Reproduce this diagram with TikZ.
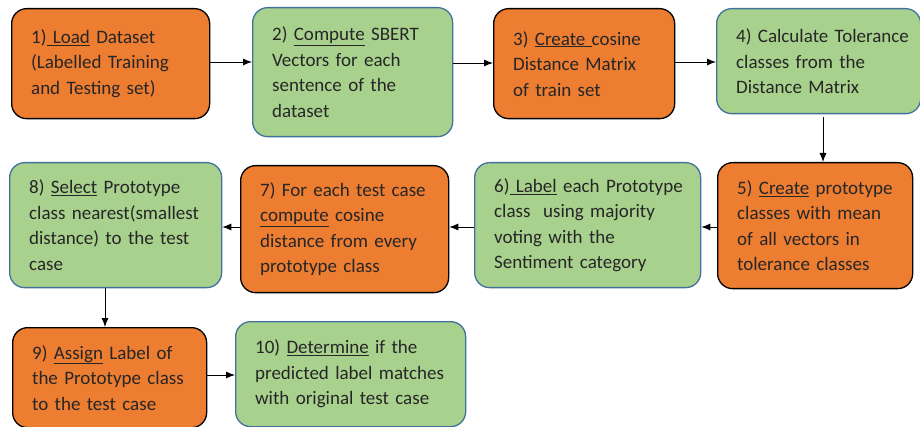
\documentclass[tikz,border=0pt]{standalone}
\usepackage{fontspec}
\setmainfont{Carlito}
\usetikzlibrary{arrows.meta,positioning}

\definecolor{stepor}{HTML}{ED7D31}
\definecolor{stepgr}{HTML}{A9D18E}
\definecolor{stepbl}{HTML}{41719C}
\definecolor{steptx}{HTML}{262626}

\newcommand\stepul[1]{\underline{#1}}

\begin{document}
\begin{tikzpicture}[>={Latex[length=9pt,width=7pt]}, x=1pt, y=-1pt]
      \tikzset{
	  box/.style={rectangle, rounded corners=15pt, line width=1.3pt, anchor=north west,
	  inner xsep=19pt, inner ysep=0pt, align=left, text=steptx,
	  font=\fontsize{19}{25.5}\selectfont},
	  orbox/.style={box, draw=black, fill=stepor},
	  grbox/.style={box, draw=stepbl, fill=stepgr},
	  %-----#1 width, #2 height
	  bsize/.code 2 args={\pgfmathsetmacro\boxtw{#1-39}%
	  \pgfkeysalso{minimum width=#1pt, minimum height=#2pt, text width=\boxtw pt}},
	  conn/.style={->, line width=0.9pt, black}
      }

      \useasboundingbox (0,0) rectangle (920,427);

      % first row
      \node[orbox, bsize={198}{110}] (b1) at (11,8) {1)\stepul{\ Load} Dataset\\(Labelled Training\\and Testing set)};
      \node[grbox, bsize={200}{129}] (b2) at (252,7) {2) \stepul{Compute} SBERT\\Vectors for each\\sentence of the\\dataset};
      \node[orbox, bsize={181}{110}] (b3) at (493,8) {3) \stepul{Create\ }cosine\\Distance Matrix\\of train set};
      \node[grbox, bsize={204}{105}] (b4) at (716,8) {\mbox{4) Calculate Tolerance}\\classes from the\\Distance Matrix};

      % second row
      \node[orbox, bsize={195}{126}] (b5) at (717,162) {5) \stepul{Create} prototype\\classes with mean\\of all vectors in\\tolerance classes};
      \node[grbox, bsize={226}{125}] (b6) at (474,162) {\mbox{6)\stepul{\ Label} each Prototype}\\class~ using majority\\voting with the\\Sentiment category};
      \node[orbox, bsize={208}{127}] (b7) at (240,165) {7) For each test case\\\stepul{compute} cosine\\distance from every\\prototype class};
      \node[grbox, bsize={212}{125}] (b8) at (9,162) {8) \stepul{Select} Prototype\\\mbox{class nearest(smallest}\\distance) to the test\\case};

      % third row
      \node[orbox, bsize={194}{100}] (b9) at (12,327) {9) \stepul{Assign} Label of\\the Prototype class\\to the test case};
      \node[grbox, bsize={230}{105}] (b10) at (235,321) {10) \stepul{Determine} if the\\\mbox{predicted label matches}\\with original test case};

      \draw[conn] (b1.east |- 0,62) -- (b2.west |- 0,62);
      \draw[conn] (b2.east |- 0,63) -- (b3.west |- 0,63);
      \draw[conn] (b3.east |- 0,62) -- (b4.west |- 0,62);
      \draw[conn] ([yshift=-3pt]b4.south -| 823,0) -- (b5.north -| 823,0);
      \draw[conn] (b5.west |- 0,227) -- (b6.east |- 0,227);
      \draw[conn] (b6.west |- 0,227) -- (b7.east |- 0,227);
      \draw[conn] (b7.west |- 0,227) -- (b8.east |- 0,227);
      \draw[conn] (b8.south -| 105,0) -- (b9.north -| 105,0);
      \draw[conn] (b9.east |- 0,375) -- (b10.west |- 0,375);
\end{tikzpicture}
\end{document}
